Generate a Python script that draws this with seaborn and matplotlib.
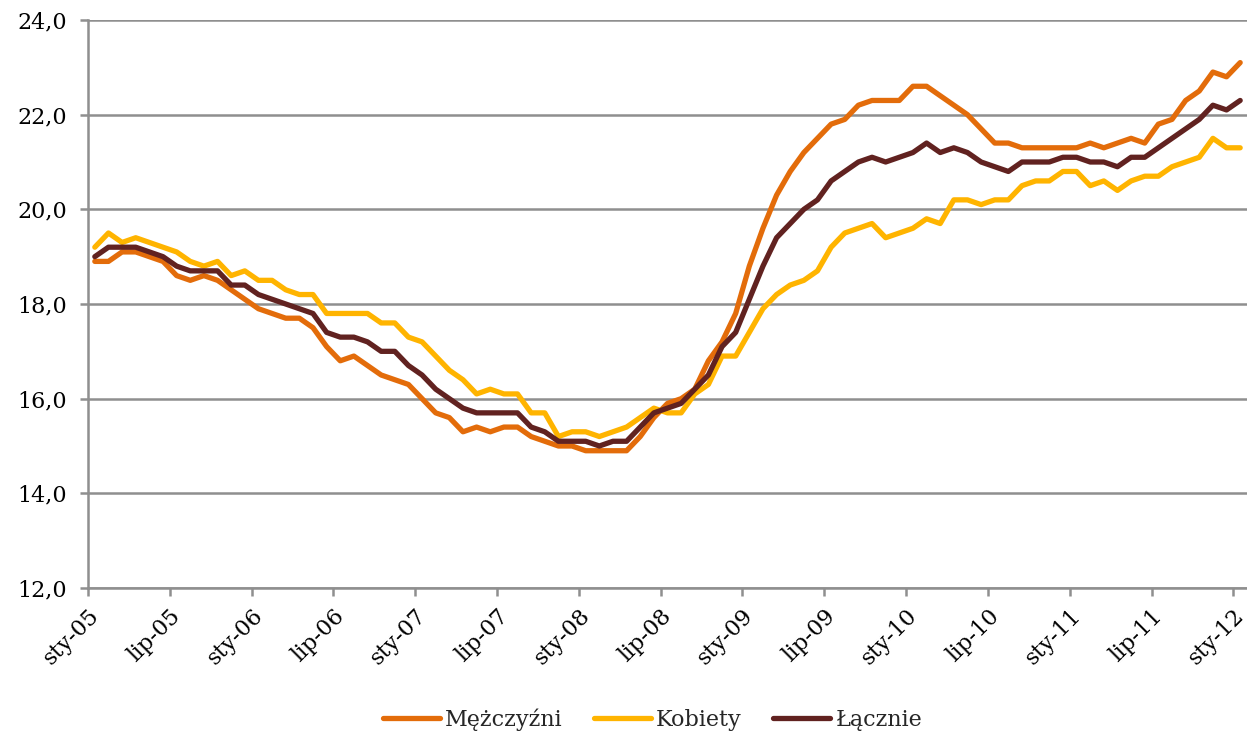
import numpy as np
import pandas as pd
import matplotlib
matplotlib.use("Agg")
import matplotlib.pyplot as plt
import matplotlib.transforms as mtransforms
import seaborn as sns

# ---- data ----
months = ["sty", "lut", "mar", "kwi", "maj", "cze", "lip", "sie", "wrz", "paź", "lis", "gru"]
periods = [f"{months[m % 12]}-{5 + m // 12:02d}" for m in range(85)]  # sty-05 .. sty-12

mezczyzni = [18.9, 18.9, 19.1, 19.1, 19.0, 18.9, 18.6, 18.5, 18.6, 18.5, 18.3, 18.1, 17.9, 17.8, 17.7, 17.7, 17.5, 17.1, 16.8, 16.9, 16.7, 16.5,
             16.4, 16.3, 16.0, 15.7, 15.6, 15.3, 15.4, 15.3, 15.4, 15.4, 15.2, 15.1, 15.0, 15.0, 14.9, 14.9, 14.9, 14.9, 15.2, 15.6, 15.9,
             16.0, 16.2, 16.8, 17.2, 17.8, 18.8, 19.6, 20.3, 20.8, 21.2, 21.5, 21.8, 21.9, 22.2, 22.3, 22.3, 22.3, 22.6, 22.6, 22.4, 22.2,
             22.0, 21.7, 21.4, 21.4, 21.3, 21.3, 21.3, 21.3, 21.3, 21.4, 21.3, 21.4, 21.5, 21.4, 21.8, 21.9, 22.3, 22.5, 22.9, 22.8, 23.1]

kobiety = [19.2, 19.5, 19.3, 19.4, 19.3, 19.2, 19.1, 18.9, 18.8, 18.9, 18.6, 18.7, 18.5, 18.5, 18.3, 18.2, 18.2, 17.8, 17.8, 17.8, 17.8, 17.6,
           17.6, 17.3, 17.2, 16.9, 16.6, 16.4, 16.1, 16.2, 16.1, 16.1, 15.7, 15.7, 15.2, 15.3, 15.3, 15.2, 15.3, 15.4, 15.6, 15.8, 15.7,
           15.7, 16.1, 16.3, 16.9, 16.9, 17.4, 17.9, 18.2, 18.4, 18.5, 18.7, 19.2, 19.5, 19.6, 19.7, 19.4, 19.5, 19.6, 19.8, 19.7, 20.2,
           20.2, 20.1, 20.2, 20.2, 20.5, 20.6, 20.6, 20.8, 20.8, 20.5, 20.6, 20.4, 20.6, 20.7, 20.7, 20.9, 21.0, 21.1, 21.5, 21.3, 21.3]

lacznie = [19.0, 19.2, 19.2, 19.2, 19.1, 19.0, 18.8, 18.7, 18.7, 18.7, 18.4, 18.4, 18.2, 18.1, 18.0, 17.9, 17.8, 17.4, 17.3, 17.3, 17.2, 17.0,
           17.0, 16.7, 16.5, 16.2, 16.0, 15.8, 15.7, 15.7, 15.7, 15.7, 15.4, 15.3, 15.1, 15.1, 15.1, 15.0, 15.1, 15.1, 15.4, 15.7, 15.8,
           15.9, 16.2, 16.5, 17.1, 17.4, 18.1, 18.8, 19.4, 19.7, 20.0, 20.2, 20.6, 20.8, 21.0, 21.1, 21.0, 21.1, 21.2, 21.4, 21.2, 21.3,
           21.2, 21.0, 20.9, 20.8, 21.0, 21.0, 21.0, 21.1, 21.1, 21.0, 21.0, 20.9, 21.1, 21.1, 21.3, 21.5, 21.7, 21.9, 22.2, 22.1, 22.3]

series_names = ["Mężczyźni", "Kobiety", "Łącznie"]
series_colors = ["#E36C0A", "#FFB400", "#612220"]
yticks = [12, 14, 16, 18, 20, 22, 24]
xtick_labels = periods[::6]

# ---- figure ----
sns.set_theme(style="white")
plt.rcParams["font.family"] = ["DejaVu Serif", "DejaVu Sans"]

df = pd.DataFrame({"idx": np.arange(len(periods)), "Mężczyźni": mezczyzni,
                   "Kobiety": kobiety, "Łącznie": lacznie})
long = df.melt(id_vars="idx", var_name="series", value_name="value")

fig = plt.figure(figsize=(12.47, 7.34), dpi=100)
ax = fig.add_axes([88 / 1247, 1 - 588 / 734, 1 - 88 / 1247, (588 - 20) / 734])

sns.lineplot(data=long, x="idx", y="value", hue="series", hue_order=series_names,
             palette=dict(zip(series_names, series_colors)), linewidth=3.8,
             ax=ax, legend=True)

ax.set_xlim(-0.5, 84.5)
ax.set_ylim(12, 24)
ax.set_yticks(yticks)
ax.set_yticklabels([f"{v:.1f}".replace(".", ",") for v in yticks], fontsize=16)
ax.set_xticks(np.arange(0, 85, 6) - 0.5)
ax.set_xticklabels(xtick_labels, fontsize=16, rotation=45, ha="right", va="top",
                   rotation_mode="anchor")
offset = mtransforms.ScaledTranslation(6 / 72, -4 / 72, fig.dpi_scale_trans)
for lbl in ax.get_xticklabels():
    lbl.set_transform(lbl.get_transform() + offset)
ax.set_xlabel("")
ax.set_ylabel("")

ax.yaxis.grid(True, color="#8f8f8f", linewidth=1.8)
ax.xaxis.grid(False)
ax.set_axisbelow(True)
for s in ["top", "right"]:
    ax.spines[s].set_visible(False)
for s in ["left", "bottom"]:
    ax.spines[s].set_color("#8f8f8f")
    ax.spines[s].set_linewidth(1.8)
ax.tick_params(axis="both", which="both", direction="out", length=6, width=1.8,
               color="#8f8f8f", labelcolor="black", left=True, bottom=True)
ax.tick_params(axis="y", pad=9)
ax.tick_params(axis="x", pad=6)

handles, labels = ax.get_legend_handles_labels()
ax.get_legend().remove()
fig.legend(handles, labels, loc="center", bbox_to_anchor=(0.523, 0.02), ncol=3,
           frameon=False, fontsize=16, handlelength=2.6, columnspacing=1.4,
           handletextpad=0.2)

fig.savefig("out.png", dpi=100)
